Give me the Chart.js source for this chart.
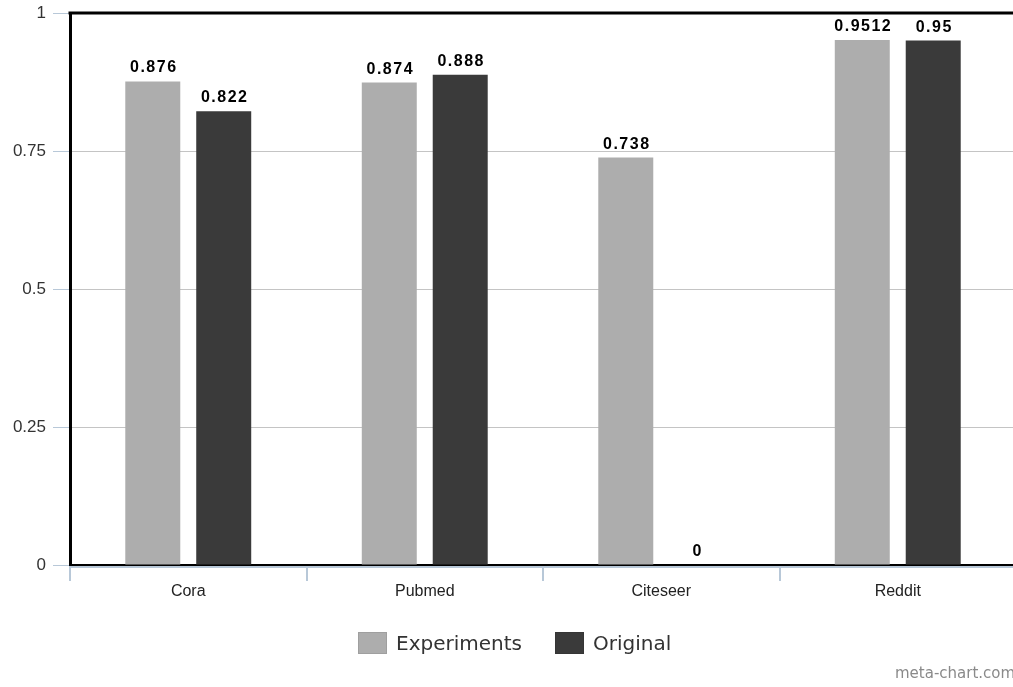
<!DOCTYPE html>
<html>
<head>
<meta charset="utf-8">
<script src="https://cdn.jsdelivr.net/npm/chart.js@4.4.1/dist/chart.umd.min.js"></script>
<style>
  body { margin:0; background:#fff; overflow:hidden; width:1013px; height:687px; position:relative; }
  #chart { position:absolute; left:0; top:0; }
  .legend { position:absolute; top:631px; left:358px; display:flex; align-items:center;
            font-family:"DejaVu Sans", sans-serif; font-size:20px; color:#333; white-space:nowrap; }
  .legend .box { width:27px; height:20px; margin-right:9px; border:1px solid rgba(0,0,0,0.08); }
  .legend .item { display:flex; align-items:center; margin-right:33px; }
  .credit { position:absolute; left:895px; top:664px; font-family:"DejaVu Sans", sans-serif;
            font-size:15px; color:#8a8a8a; white-space:nowrap; }
</style>
</head>
<body>
<canvas id="chart" width="1016" height="687"></canvas>
<div class="legend" id="legend"></div>
<div class="credit">meta-chart.com</div>
<script>
const categories = ["Cora", "Pubmed", "Citeseer", "Reddit"];
const experiments = [0.876, 0.874, 0.738, 0.9512];
const original = [0.822, 0.888, 0, 0.95];
const seriesNames = ["Experiments", "Original"];
const seriesColors = ["#adadad", "#3a3a3a"];
const yTicks = [0, 0.25, 0.5, 0.75, 1];

/* value labels above the bars */
const valueLabels = {
  id: "valueLabels",
  afterDatasetsDraw(chart) {
    const ctx = chart.ctx;
    ctx.save();
    ctx.font = "bold 16px 'Liberation Sans', Arial, sans-serif";
    ctx.fillStyle = "#000";
    ctx.textAlign = "center";
    ctx.textBaseline = "alphabetic";
    ctx.letterSpacing = "1.5px";
    chart.data.datasets.forEach((ds, i) => {
      chart.getDatasetMeta(i).data.forEach((bar, j) => {
        ctx.fillText(String(ds.data[j]), bar.x + 1, bar.y - 9);
      });
    });
    ctx.restore();
  }
};

/* frame: black top line and the pale line under the x axis */
const frame = {
  id: "frame",
  afterDraw(chart) {
    const { ctx, chartArea:a } = chart;
    ctx.save();
    ctx.strokeStyle = "#000";
    ctx.lineWidth = 3;
    ctx.beginPath();
    ctx.moveTo(a.left - 1.5, a.top);
    ctx.lineTo(a.right, a.top);
    ctx.stroke();
    ctx.strokeStyle = "#b8c8d8";
    ctx.lineWidth = 2;
    ctx.beginPath();
    ctx.moveTo(a.left, a.bottom + 2);
    ctx.lineTo(a.right, a.bottom + 2);
    ctx.stroke();
    ctx.restore();
  }
};

new Chart(document.getElementById("chart"), {
  type: "bar",
  data: {
    labels: categories,
    datasets: [
      { label: seriesNames[0], data: experiments, backgroundColor: seriesColors[0] },
      { label: seriesNames[1], data: original, backgroundColor: seriesColors[1] }
    ]
  },
  options: {
    responsive: false,
    animation: false,
    devicePixelRatio: 1,
    categoryPercentage: 0.6,
    barPercentage: 0.775,
    layout: { padding: { top: 13, right: 0, left: 0, bottom: 82 } },
    plugins: { legend: { display: false }, tooltip: { enabled: false } },
    scales: {
      x: {
        afterFit: s => { s.height = 40; s.paddingLeft = 0; s.paddingRight = 0; },
        grid: { offset: true, drawOnChartArea: false, drawTicks: true, tickLength: 16,
                tickColor: "#b8c8d8", lineWidth: 2 },
        border: { color: "#000", width: 2 },
        ticks: { color: "#222", padding: 1, font: { family: "'Liberation Sans', Arial, sans-serif", size: 16 } }
      },
      y: {
        min: 0, max: 1,
        afterFit: s => { s.width = 70; s.paddingTop = 0; s.paddingBottom = 0; },
        afterBuildTicks: s => { s.ticks = yTicks.map(v => ({ value: v })); },
        grid: { color: "#c4c4c4", lineWidth: 1, tickLength: 17, tickColor: "#b8c8d8" },
        border: { color: "#000", width: 3 },
        ticks: { color: "#333", padding: 7, callback: v => String(v),
                 font: { family: "'Liberation Sans', Arial, sans-serif", size: 17 } }
      }
    }
  },
  plugins: [valueLabels, frame]
});

/* legend */
const legend = document.getElementById("legend");
seriesNames.forEach((name, i) => {
  const item = document.createElement("div");
  item.className = "item";
  item.innerHTML = `<span class="box" style="background:${seriesColors[i]}"></span><span>${name}</span>`;
  legend.appendChild(item);
});
</script>
</body>
</html>
